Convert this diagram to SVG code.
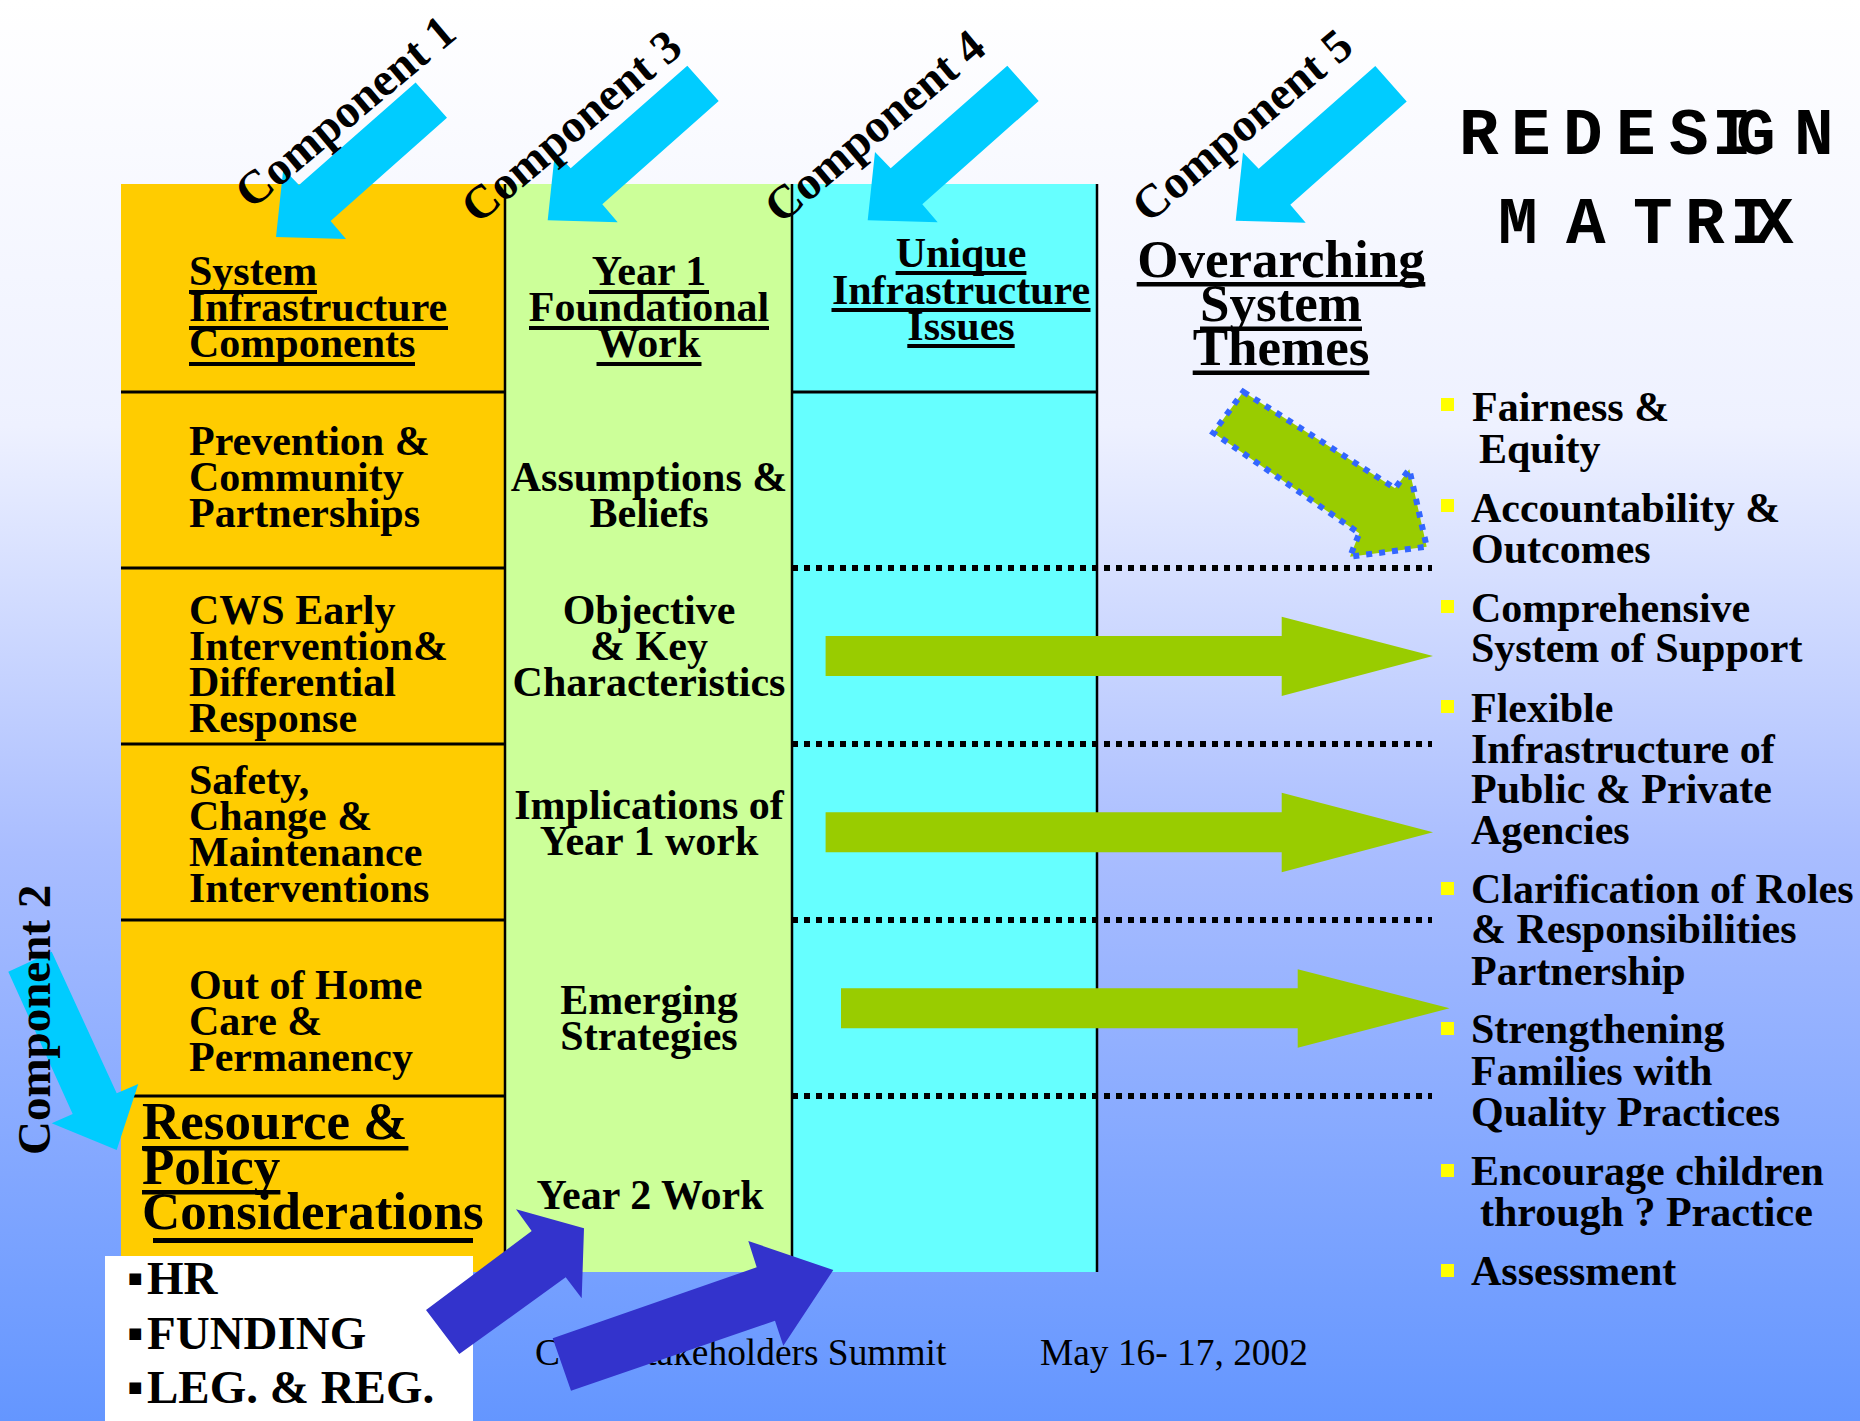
<svg xmlns="http://www.w3.org/2000/svg" width="1860" height="1421" viewBox="0 0 1860 1421">
<defs>
<linearGradient id="bg" x1="0" y1="0" x2="0" y2="1">
<stop offset="0" stop-color="#ffffff"/>
<stop offset="0.3" stop-color="#eef1ff"/>
<stop offset="0.6" stop-color="#a9bdff"/>
<stop offset="1" stop-color="#6496ff"/>
</linearGradient>
<polygon id="carrow" points="0,0 70,2 54.6,-16 171,-119.3 139.6,-154.6 23,-52 7.3,-68.3"/>
</defs>
<style>
.b{font-family:"Liberation Serif","Times New Roman",serif;font-weight:bold;font-size:42px;fill:#000}
.r{font-family:"Liberation Serif","Times New Roman",serif;font-size:37.4px;fill:#000}
.m{text-anchor:middle}
.big{font-size:53px}
.comp{font-size:47px}
.lst{font-size:47px}
.mono{font-family:"Courier New","Liberation Mono",monospace;font-weight:bold;font-size:66px;fill:#000}
.ul{fill:#000}
.row{stroke:#000;stroke-width:3}
.vl{stroke:#000;stroke-width:2.5}
.dot{stroke:#000;stroke-width:6;stroke-dasharray:6 6;fill:none}
.cy{fill:#00ccff}
.gr{fill:#99cc00}
.bl{fill:#3333cc}
.bul{fill:#ffff00}
</style>
<rect width="1860" height="1421" fill="url(#bg)"/>

<g id="columns">
<rect x="121" y="184" width="384" height="1088" fill="#ffcc00"/>
<rect x="505" y="184" width="287" height="1088" fill="#ccff99"/>
<rect x="792" y="184" width="305" height="1088" fill="#66ffff"/>
</g>

<g id="grid">
<line class="row" x1="121" y1="392" x2="505" y2="392"/>
<line class="row" x1="121" y1="568" x2="505" y2="568"/>
<line class="row" x1="121" y1="744" x2="505" y2="744"/>
<line class="row" x1="121" y1="920" x2="505" y2="920"/>
<line class="row" x1="121" y1="1096" x2="505" y2="1096"/>
<line class="row" x1="792" y1="392" x2="1097" y2="392"/>
<line class="vl" x1="505" y1="184" x2="505" y2="1272"/>
<line class="vl" x1="792" y1="184" x2="792" y2="1272"/>
<line class="vl" x1="1097" y1="184" x2="1097" y2="1272" stroke-width="2"/>
<line class="dot" x1="792" y1="568" x2="1432" y2="568"/>
<line class="dot" x1="792" y1="744" x2="1432" y2="744"/>
<line class="dot" x1="792" y1="920" x2="1432" y2="920"/>
<line class="dot" x1="792" y1="1096" x2="1432" y2="1096"/>
</g>

<g id="title">
<text class="mono" x="1459 1511 1563 1616 1669 1712 1736 1794" y="154">REDESIGN</text>
<text class="mono" x="1498 1566 1633 1685 1730 1754" y="243">MATRIX</text>
</g>

<g id="hdr-system-infrastructure">
<text class="b" x="189" y="285">System</text>
<text class="b" x="189" y="321">Infrastructure</text>
<text class="b" x="189" y="357">Components</text>
<rect class="ul" x="189" y="290" width="128" height="4"/>
<rect class="ul" x="189" y="326" width="259" height="4"/>
<rect class="ul" x="189" y="362" width="226" height="4"/>
</g>
<g id="hdr-year1">
<text class="b m" x="649" y="285">Year 1</text>
<text class="b m" x="649" y="321">Foundational</text>
<text class="b m" x="649" y="357">Work</text>
<rect class="ul" x="589" y="290" width="120" height="4"/>
<rect class="ul" x="529" y="326" width="240" height="4"/>
<rect class="ul" x="596.5" y="362" width="105" height="4"/>
</g>
<g id="hdr-unique">
<text class="b m" x="961" y="267">Unique</text>
<text class="b m" x="961" y="304">Infrastructure</text>
<text class="b m" x="961" y="340">Issues</text>
<rect class="ul" x="895.6" y="271" width="130.8" height="4"/>
<rect class="ul" x="831.5" y="308" width="259" height="4"/>
<rect class="ul" x="907.3" y="344" width="107.4" height="4"/>
</g>
<g id="hdr-overarching">
<text class="b big m" x="1281" y="277">Overarching</text>
<text class="b big m" x="1281" y="321">System</text>
<text class="b big m" x="1281" y="365">Themes</text>
<rect class="ul" x="1136.7" y="282" width="288.6" height="4.5"/>
<rect class="ul" x="1200" y="326.5" width="162" height="4.5"/>
<rect class="ul" x="1192.7" y="370.5" width="176.6" height="4.5"/>
</g>

<g id="cell-prevention">
<text class="b" x="189" y="455">Prevention &amp;</text>
<text class="b" x="189" y="491">Community</text>
<text class="b" x="189" y="527">Partnerships</text>
</g>
<g id="cell-cws">
<text class="b" x="189" y="624">CWS Early</text>
<text class="b" x="189" y="660">Intervention&amp;</text>
<text class="b" x="189" y="696">Differential</text>
<text class="b" x="189" y="732">Response</text>
</g>
<g id="cell-safety">
<text class="b" x="189" y="794">Safety,</text>
<text class="b" x="189" y="830">Change &amp;</text>
<text class="b" x="189" y="866">Maintenance</text>
<text class="b" x="189" y="902">Interventions</text>
</g>
<g id="cell-outofhome">
<text class="b" x="189" y="999">Out of Home</text>
<text class="b" x="189" y="1035">Care &amp;</text>
<text class="b" x="189" y="1071">Permanency</text>
</g>
<g id="cell-resource">
<text class="b big" x="142" y="1139">Resource &amp;</text>
<text class="b big" x="142" y="1184">Policy</text>
<text class="b big" x="142" y="1229">Considerations</text>
<rect class="ul" x="142" y="1146" width="266.4" height="4.5"/>
<rect class="ul" x="142" y="1190" width="138.4" height="4.5"/>
<rect class="ul" x="153" y="1238" width="320" height="5"/>
</g>

<g id="cell-assumptions">
<text class="b m" x="649" y="491">Assumptions &amp;</text>
<text class="b m" x="649" y="527">Beliefs</text>
</g>
<g id="cell-objective">
<text class="b m" x="649" y="624">Objective</text>
<text class="b m" x="649" y="660">&amp; Key</text>
<text class="b m" x="649" y="696">Characteristics</text>
</g>
<g id="cell-implications">
<text class="b m" x="649" y="819">Implications of</text>
<text class="b m" x="649" y="855">Year 1 work</text>
</g>
<g id="cell-emerging">
<text class="b m" x="649" y="1014">Emerging</text>
<text class="b m" x="649" y="1050">Strategies</text>
</g>
<g id="cell-year2">
<text class="b m" x="650" y="1209">Year 2 Work</text>
</g>

<g id="resource-list">
<rect x="105" y="1256" width="368" height="165" fill="#ffffff"/>
<text class="b lst" y="1294"><tspan x="127">▪</tspan><tspan x="147">HR</tspan></text>
<text class="b lst" y="1349"><tspan x="127">▪</tspan><tspan x="147">FUNDING</tspan></text>
<text class="b lst" y="1403"><tspan x="127">▪</tspan><tspan x="147">LEG. &amp; REG.</tspan></text>
</g>

<g id="themes-list">
<rect class="bul" x="1441" y="398" width="13" height="13"/>
<rect class="bul" x="1441" y="499" width="13" height="13"/>
<rect class="bul" x="1441" y="600" width="13" height="13"/>
<rect class="bul" x="1441" y="700" width="13" height="13"/>
<rect class="bul" x="1441" y="882" width="13" height="13"/>
<rect class="bul" x="1441" y="1022" width="13" height="13"/>
<rect class="bul" x="1441" y="1164" width="13" height="13"/>
<rect class="bul" x="1441" y="1264" width="13" height="13"/>
<text class="b" x="1472" y="421">Fairness &amp;</text>
<text class="b" x="1479" y="463">Equity</text>
<text class="b" x="1471" y="522">Accountability &amp;</text>
<text class="b" x="1471" y="563">Outcomes</text>
<text class="b" x="1471" y="622">Comprehensive</text>
<text class="b" x="1471" y="662">System of Support</text>
<text class="b" x="1471" y="722">Flexible</text>
<text class="b" x="1471" y="763">Infrastructure of</text>
<text class="b" x="1471" y="803">Public &amp; Private</text>
<text class="b" x="1471" y="844">Agencies</text>
<text class="b" x="1471" y="903">Clarification of Roles</text>
<text class="b" x="1471" y="943">&amp; Responsibilities</text>
<text class="b" x="1471" y="985">Partnership</text>
<text class="b" x="1471" y="1043">Strengthening</text>
<text class="b" x="1471" y="1085">Families with</text>
<text class="b" x="1471" y="1126">Quality Practices</text>
<text class="b" x="1471" y="1185">Encourage children</text>
<text class="b" x="1480" y="1226">through ? Practice</text>
<text class="b" x="1471" y="1285">Assessment</text>
</g>

<g id="footer">
<text class="r" x="535" y="1365">CWS Stakeholders Summit</text>
<text class="r" x="1040" y="1365">May 16- 17, 2002</text>
</g>

<g id="connectors">
<use href="#carrow" class="cy" transform="translate(276,237)"/>
<use href="#carrow" class="cy" transform="translate(547.7,220.3)"/>
<use href="#carrow" class="cy" transform="translate(867.7,220.3)"/>
<use href="#carrow" class="cy" transform="translate(1235.7,220.7)"/>
<polygon class="cy" points="8.3,971.7 51.7,951.7 116.7,1093.3 138.3,1084 116.7,1150 51.7,1123.3 72.7,1114"/>
<polygon class="gr" points="825.6,636 1281.7,636 1281.7,616.7 1433,656 1281.7,696 1281.7,676 825.6,676"/>
<polygon class="gr" points="825.6,812.3 1281.7,812.3 1281.7,792.7 1433,832.3 1281.7,872.3 1281.7,852.3 825.6,852.3"/>
<polygon class="gr" points="841,988.3 1297.7,988.3 1297.7,969.3 1449.6,1008.3 1297.7,1047.7 1297.7,1028.3 841,1028.3"/>
<polygon class="gr" points="1243.3,391.7 1395,488.3 1409.3,469.3 1426.7,546.7 1350,556.7 1359.3,533.3 1213.3,432.7" stroke="#3366ff" stroke-width="6" stroke-dasharray="6 7"/>
<polygon class="bl" points="459.3,1354 426,1310 531.7,1231 516,1209.3 584,1228.3 581.7,1298.3 565.7,1277.3"/>
<polygon class="bl" points="571,1390.7 552.7,1338.3 756.7,1267.3 748.3,1241 833.3,1270 783.3,1345.7 775,1320.7"/>
</g>

<g id="component-labels">
<text class="b comp m" transform="translate(345.5,112) rotate(-40)" y="15">Component 1</text>
<text class="b comp m" transform="translate(571.7,126.7) rotate(-40)" y="15">Component 3</text>
<text class="b comp m" transform="translate(875,126.7) rotate(-40)" y="15">Component 4</text>
<text class="b comp m" transform="translate(1242.5,125.8) rotate(-40)" y="15">Component 5</text>
<text class="b comp" transform="translate(50,1155) rotate(-90)">Component 2</text>
</g>
</svg>
